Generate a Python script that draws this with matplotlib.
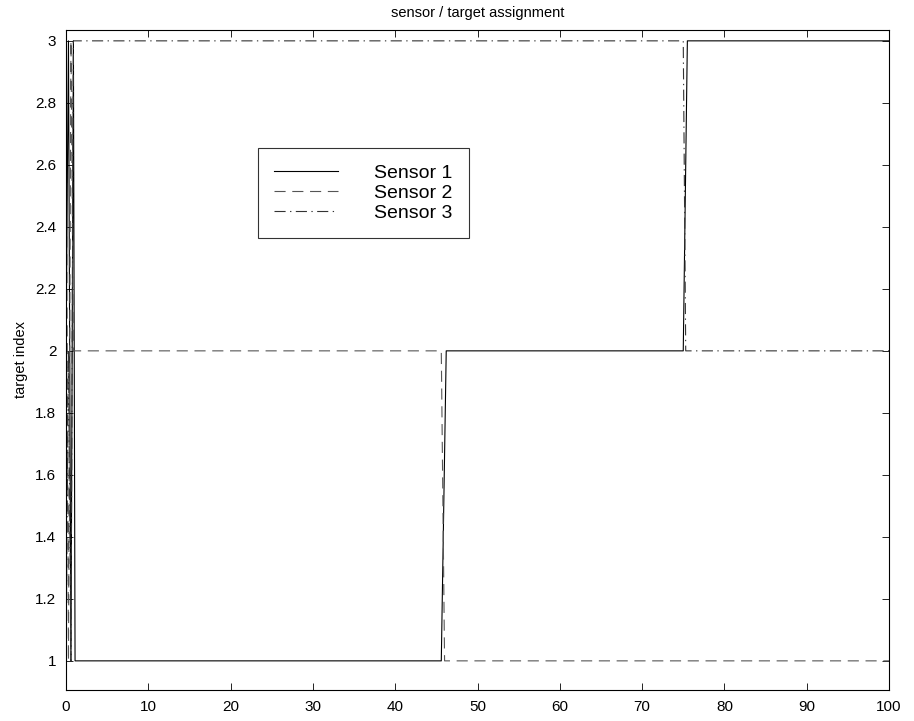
import matplotlib.pyplot as plt

plt.rcParams['font.family'] = ['Liberation Sans', 'DejaVu Sans']

# time breakpoints and target index for each sensor
t1 = [0, 0.3, 0.6, 0.9, 1.1, 45.6, 46.2, 75.0, 75.5, 100]
s1 = [2, 3, 1, 3, 1, 1, 2, 2, 3, 3]

t2 = [0, 0.3, 0.6, 0.9, 45.6, 46.0, 100]
s2 = [3, 1, 3, 2, 2, 1, 1]

t3 = [0, 0.3, 0.6, 0.9, 75.0, 75.3, 100]
s3 = [1, 2, 1, 3, 3, 2, 2]

labels = ['Sensor 1', 'Sensor 2', 'Sensor 3']

fig = plt.figure(figsize=(9.14, 7.21), dpi=100)
ax = fig.add_axes([66 / 914, 31 / 721, 823 / 914, 660 / 721])

ax.plot(t1, s1, color='black', linewidth=0.8, label=labels[0])
ax.plot(t2, s2, color='#555555', linewidth=0.8, linestyle=(0, (10, 6)), label=labels[1])
ax.plot(t3, s3, color='#333333', linewidth=0.8, linestyle=(0, (10, 4, 1.2, 4)), label=labels[2])

ax.set_xlim(0, 100)
ax.set_ylim(0.906, 3.035)
ax.set_xticks(range(0, 101, 10))
ax.set_yticks([1, 1.2, 1.4, 1.6, 1.8, 2, 2.2, 2.4, 2.6, 2.8, 3])
ax.set_yticklabels(['1', '1.2', '1.4', '1.6', '1.8', '2', '2.2', '2.4', '2.6', '2.8', '3'])
ax.tick_params(direction='in', top=True, right=True, length=5, labelsize=11, width=0.6)
ax.tick_params(axis='x', pad=7)
ax.tick_params(axis='y', pad=7)
for sp in ax.spines.values():
    sp.set_linewidth(0.8)

ax.set_title('sensor / target assignment', fontsize=10.5, pad=9)
ax.set_ylabel('target index', fontsize=10.5, labelpad=5)

leg = ax.legend(loc='upper left', bbox_to_anchor=(0.2333, 0.821), fontsize=14,
                handlelength=3.3, frameon=True, fancybox=False, edgecolor='black',
                borderpad=0.83, labelspacing=0.13, handletextpad=1.85, borderaxespad=0)
leg.get_frame().set_linewidth(0.8)

fig.savefig('out.png', dpi=100)
